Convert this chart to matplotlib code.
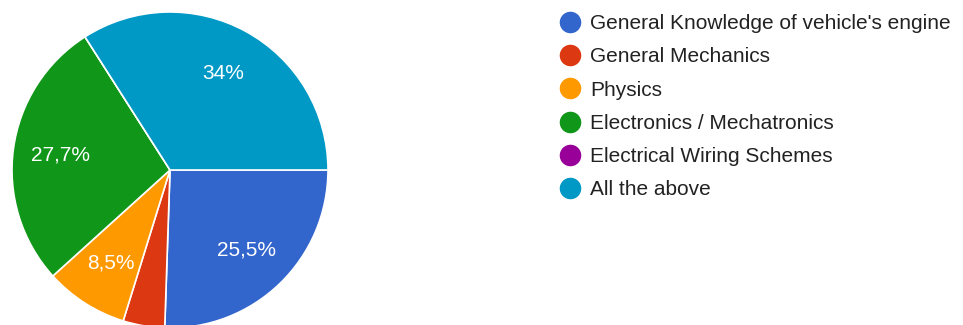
import matplotlib.pyplot as plt
from matplotlib.lines import Line2D

plt.rcParams['font.family'] = ['Liberation Sans', 'DejaVu Sans']

# respostas (47 no total)
categorias = ["General Knowledge of vehicle's engine", "General Mechanics", "Physics",
              "Electronics / Mechatronics", "Electrical Wiring Schemes", "All the above"]
contagens = [12, 2, 4, 13, 0, 16]
cores = ['#3366CC', '#DC3912', '#FF9900', '#109618', '#990099', '#0099C6']


def rotulo(pct):
    # esconde fatias pequenas, usa virgula decimal como no original
    if pct < 5:
        return ''
    txt = f'{pct:.1f}'.replace('.', ',')
    if txt.endswith(',0'):
        txt = txt[:-2]
    return txt + '%'


fig = plt.figure(figsize=(9.63, 3.25), dpi=100)
# eixo da pizza em pixels: raio ~158 px, centro em (170, 170)
ax = fig.add_axes([12 / 963, -3 / 325, 316 / 963, 316 / 325])
ax.pie(contagens, colors=cores, startangle=0, counterclock=False,
       autopct=rotulo, pctdistance=0.7,
       wedgeprops={'edgecolor': 'white', 'linewidth': 1.2},
       textprops={'color': 'white', 'fontsize': 15})
ax.set_xlim(-1, 1)
ax.set_ylim(-1, 1)
ax.set_aspect('equal')
ax.axis('off')

# legenda
marcadores = [Line2D([0], [0], marker='o', linestyle='', markersize=14.5,
                     markerfacecolor=c, markeredgecolor=c) for c in cores]
leg = fig.legend(marcadores, categorias, loc='upper left',
                 bbox_to_anchor=(552 / 963, 1 - 6 / 325), frameon=False,
                 fontsize=15, labelspacing=0.68, handletextpad=0.54,
                 handlelength=0.9, borderaxespad=0)
for t in leg.get_texts():
    t.set_color('#222222')

fig.savefig('out.png', dpi=100)
